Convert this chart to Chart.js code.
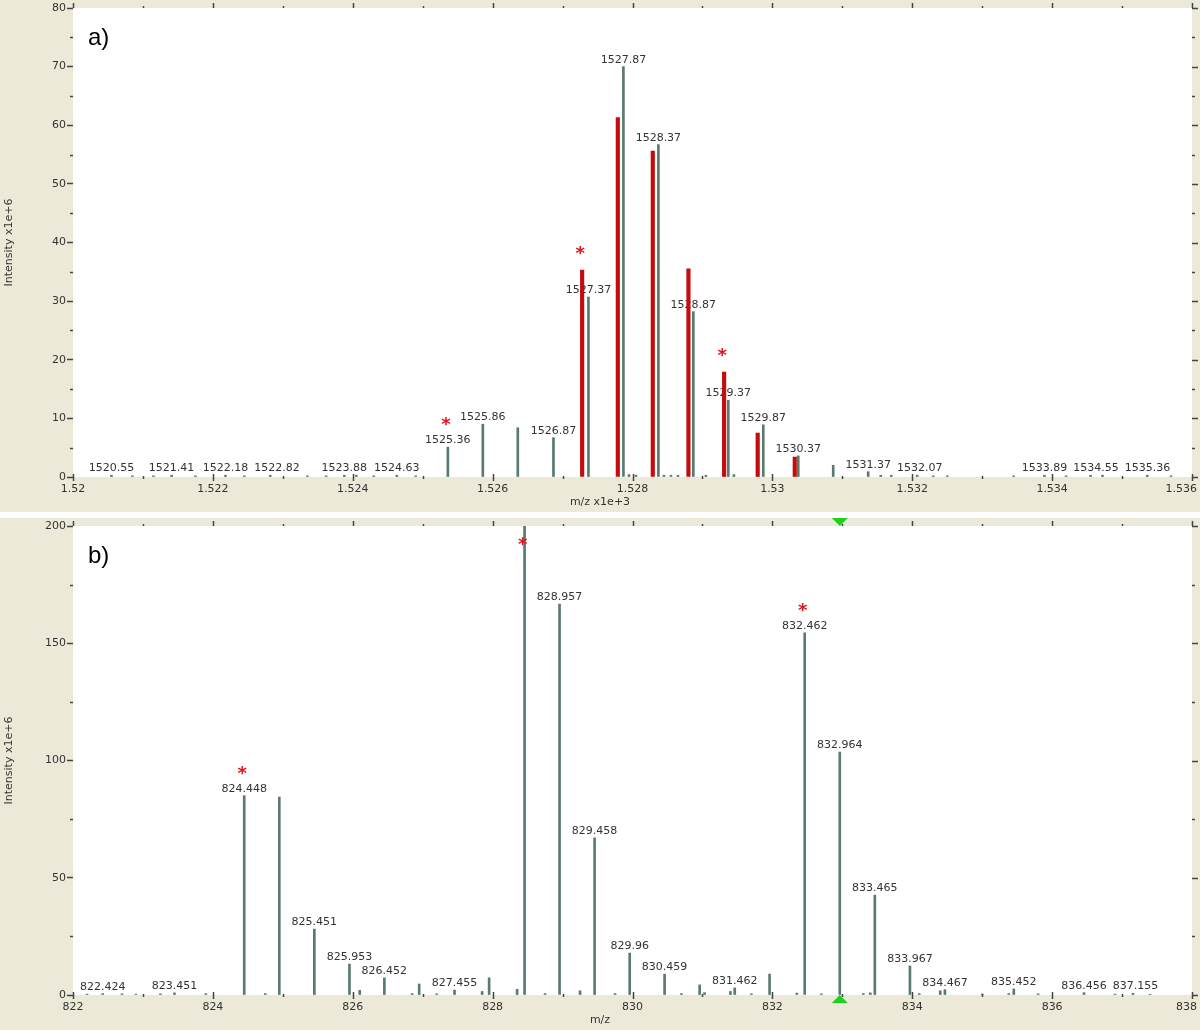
<!DOCTYPE html>
<html lang="en">
<head>
<meta charset="UTF-8">
<title>Mass spectra a) and b)</title>
<script src="https://cdn.jsdelivr.net/npm/chart.js"></script>
<style>
  * { margin: 0; padding: 0; box-sizing: border-box; }
  body { width: 1200px; height: 1030px; background: #fff; overflow: hidden; }
  .panel { position: absolute; left: 0; width: 1200px; height: 512px; background: #ECE9D8; }
  #panelA { top: 0; }
  #panelB { top: 518px; }
</style>
</head>
<body>
<div class="panel" id="panelA"><canvas id="chartA" width="1200" height="512"></canvas></div>
<div class="panel" id="panelB"><canvas id="chartB" width="1200" height="512"></canvas></div>

<script>
// ---- panel a) : measured peaks (grey) + theoretical isotopes (red) ----
const aMz = [1520.55, 1520.85, 1521.15, 1521.41, 1521.75, 1522.18, 1522.45, 1522.82, 1523.35, 1523.62,
             1523.88, 1524.05, 1524.3, 1524.63, 1524.9, 1525.36, 1525.86, 1526.36, 1526.87, 1527.37,
             1527.87, 1527.95, 1528.05, 1528.37, 1528.45, 1528.55, 1528.65, 1528.87, 1529.05, 1529.37,
             1529.45, 1529.87, 1530.37, 1530.87, 1531.37, 1531.55, 1531.7, 1532.07, 1532.3, 1532.5,
             1533.45, 1533.89, 1534.2, 1534.55, 1534.72, 1535.36, 1535.7];
const aInt = [0.3, 0.2, 0.2, 0.3, 0.2, 0.3, 0.2, 0.3, 0.2, 0.2,
              0.3, 0.3, 0.2, 0.3, 0.2, 5.1, 9.0, 8.4, 6.7, 30.7,
              70.0, 0.4, 0.3, 56.7, 0.3, 0.3, 0.3, 28.2, 0.3, 13.1,
              0.4, 8.9, 3.6, 2.0, 0.9, 0.3, 0.3, 0.3, 0.2, 0.2,
              0.2, 0.3, 0.2, 0.3, 0.3, 0.3, 0.2];
const aTheoMz = [1527.28, 1527.79, 1528.29, 1528.80, 1529.31, 1529.79, 1530.32];
const aTheoInt = [35.3, 61.3, 55.6, 35.5, 17.9, 7.5, 3.4];
const aLabelled = [1520.55, 1521.41, 1522.18, 1522.82, 1523.88, 1524.63, 1525.36, 1525.86, 1526.87,
                   1527.37, 1527.87, 1528.37, 1528.87, 1529.37, 1529.87, 1530.37, 1531.37, 1532.07,
                   1533.89, 1534.55, 1535.36];
const aStars = [1525.36, 1527.28, 1529.31];
const aXTicks = [1520, 1522, 1524, 1526, 1528, 1530, 1532, 1534, 1536];   // shown as x1e+3
const aYTicks = [0, 10, 20, 30, 40, 50, 60, 70, 80];

// ---- panel b) ----
const bMz = [822.2, 822.424, 822.7, 822.9, 823.25, 823.451, 823.9, 824.448, 824.75, 824.95,
             825.451, 825.953, 826.1, 826.452, 826.85, 826.95, 827.2, 827.455, 827.85, 827.95,
             828.35, 828.457, 828.75, 828.957, 829.25, 829.458, 829.75, 829.96, 830.459, 830.7,
             830.96, 831.03, 831.4, 831.462, 831.7, 831.96, 832.35, 832.462, 832.7, 832.964,
             833.3, 833.4, 833.465, 833.967, 834.1, 834.4, 834.467, 835.0, 835.38, 835.452,
             835.8, 836.456, 836.9, 837.155, 837.4];
const bInt = [0.4, 0.6, 0.5, 0.4, 0.5, 0.9, 0.6, 85.0, 0.6, 84.4,
              28.1, 13.2, 2.0, 7.3, 0.6, 4.7, 0.5, 2.1, 1.5, 7.3,
              2.4, 200, 0.6, 166.7, 1.8, 67.0, 0.6, 17.9, 8.9, 0.6,
              4.3, 1.0, 1.5, 3.0, 0.5, 8.9, 0.8, 154.4, 0.5, 103.6,
              0.6, 0.9, 42.6, 12.4, 0.6, 1.8, 2.3, 0.4, 0.6, 2.6,
              0.5, 1.0, 0.4, 0.7, 0.3];
const bLabelled = [822.424, 823.451, 824.448, 825.451, 825.953, 826.452, 827.455, 828.957, 829.458,
                   829.96, 830.459, 831.462, 832.462, 832.964, 833.465, 833.967, 834.467, 835.452,
                   836.456, 837.155];
const bStars = [824.448, 828.457, 832.462];
const bMarker = 832.964;
const bXTicks = [822, 824, 826, 828, 830, 832, 834, 836, 838];
const bYTicks = [0, 50, 100, 150, 200];

const GREY = '#587a70';
const RED = '#c40c0c';
const INK = '#333';

Chart.defaults.font.family = '"DejaVu Sans", Verdana, sans-serif';

function peakTop(cfg, m) {
  let i = cfg.mz.indexOf(m);
  if (i >= 0) return cfg.inten[i];
  i = cfg.theoMz.indexOf(m);
  return i >= 0 ? cfg.theoInt[i] : 0;
}

function decoPlugin(cfg) {
  return {
    id: 'deco' + cfg.tag.charAt(0),
    beforeDraw(chart) {
      const { ctx, chartArea: a } = chart;
      ctx.save();
      ctx.fillStyle = '#fff';
      ctx.fillRect(a.left, a.top, a.right - a.left, a.bottom - a.top);
      ctx.restore();
    },
    beforeDatasetsDraw(chart) {
      // peak labels, nudged right when they would collide with the previous one
      const { ctx, scales: { x, y } } = chart;
      ctx.save();
      ctx.font = '11px "DejaVu Sans"';
      ctx.fillStyle = INK;
      ctx.textAlign = 'center';
      const placed = [];
      cfg.labelled.forEach(m => {
        const t = String(m);
        const w = ctx.measureText(t).width;
        let px = x.getPixelForValue(m);
        const py = y.getPixelForValue(peakTop(cfg, m)) - 4;
        placed.forEach(p => {
          if (Math.abs(p.y - py) < 12 && px - w / 2 < p.right + 6) px = p.right + 6 + w / 2;
        });
        ctx.fillText(t, px, py);
        placed.push({ right: px + w / 2, y: py });
      });
      ctx.restore();
    },
    afterDraw(chart) {
      const { ctx, chartArea: a, scales: { x, y } } = chart;
      ctx.save();
      ctx.strokeStyle = '#444';
      ctx.lineWidth = 1.5;
      const line = (x0, y0, x1, y1) => { ctx.beginPath(); ctx.moveTo(x0, y0); ctx.lineTo(x1, y1); ctx.stroke(); };

      // x ticks: bottom axis + mirrored on top
      const xs = cfg.xTicks;
      for (let v = xs[0]; v <= xs[xs.length - 1]; v += 1) {
        const px = Math.round(x.getPixelForValue(v)) + 0.5;
        const major = xs.includes(v);
        line(px, a.bottom - (major ? 3 : 1), px, a.bottom + (major ? 4 : 2));
        line(px, a.top - (major ? 5 : 2), px, a.top);
      }
      // y ticks: minor on the left, all on the right
      const ys = cfg.yTicks, half = (ys[1] - ys[0]) / 2;
      for (let v = 0; v <= ys[ys.length - 1]; v += half) {
        const py = Math.round(y.getPixelForValue(v)) + 0.5;
        const major = ys.includes(v);
        if (!major) line(a.left - 3, py, a.left, py);
        line(a.right, py, a.right + (major ? 6 : 3), py);
      }

      // x tick labels, kept inside the canvas
      ctx.font = '11px "DejaVu Sans"';
      ctx.fillStyle = INK;
      ctx.textAlign = 'center';
      ctx.textBaseline = 'middle';
      xs.forEach(v => {
        const t = cfg.xFmt(v);
        const w = ctx.measureText(t).width;
        let px = x.getPixelForValue(v);
        px = Math.min(px, chart.width - 3 - w / 2);
        ctx.fillText(t, px, a.bottom + 12);
      });
      ctx.fillText(cfg.xTitle, chart.width / 2, a.bottom + 25);

      // panel tag
      ctx.font = '24px "Liberation Sans", Arial, sans-serif';
      ctx.fillStyle = '#000';
      ctx.textAlign = 'left';
      ctx.textBaseline = 'alphabetic';
      ctx.fillText(cfg.tag, a.left + 15, a.top + 37);

      // asterisks on marked isotopes
      ctx.font = 'bold 18px "DejaVu Sans"';
      ctx.fillStyle = '#e0161c';
      ctx.textAlign = 'center';
      cfg.stars.forEach(m => {
        const top = y.getPixelForValue(peakTop(cfg, m));
        let cy = top - (cfg.labelled.includes(m) ? 26 : 20);
        if (cy < a.top + 15) cy = a.top + 15;
        ctx.fillText('*', x.getPixelForValue(m) - 2, cy + 9);
      });

      // green range marker
      if (cfg.marker) {
        const mx = x.getPixelForValue(cfg.marker);
        ctx.fillStyle = '#1fd01f';
        ctx.beginPath();
        ctx.moveTo(mx - 8, a.top - 8); ctx.lineTo(mx + 8, a.top - 8); ctx.lineTo(mx, a.top); ctx.closePath();
        ctx.fill();
        ctx.beginPath();
        ctx.moveTo(mx - 8, a.bottom + 8); ctx.lineTo(mx + 8, a.bottom + 8); ctx.lineTo(mx, a.bottom); ctx.closePath();
        ctx.fill();
      }
      ctx.restore();
    }
  };
}

function makeSpectrum(canvasId, cfg) {
  const datasets = [{
    data: cfg.mz.map((m, i) => ({ x: m, y: cfg.inten[i] })),
    backgroundColor: GREY,
    barThickness: 2,
    grouped: false
  }];
  if (cfg.theoMz.length) {
    datasets.push({
      data: cfg.theoMz.map((m, i) => ({ x: m, y: cfg.theoInt[i] })),
      backgroundColor: RED,
      barThickness: 3.5,
      grouped: false
    });
  }
  return new Chart(document.getElementById(canvasId), {
    type: 'bar',
    data: { datasets },
    options: {
      responsive: false,
      animation: false,
      events: [],
      layout: { padding: { top: 8, right: 8, bottom: 0, left: 0 } },
      plugins: { legend: { display: false }, tooltip: { enabled: false } },
      scales: {
        x: {
          type: 'linear',
          min: cfg.xTicks[0],
          max: cfg.xTicks[cfg.xTicks.length - 1],
          offset: false,
          grid: { display: false },
          border: { display: false },
          ticks: { display: false },
          afterFit(s) { s.height = 35; s.paddingLeft = 0; s.paddingRight = 0; }
        },
        y: {
          min: 0,
          max: cfg.yTicks[cfg.yTicks.length - 1],
          ticks: { stepSize: cfg.yTicks[1] - cfg.yTicks[0], color: INK, font: { size: 11 }, padding: 1 },
          grid: { drawOnChartArea: false, tickLength: 6, tickWidth: 1.5, tickColor: '#444' },
          border: { display: false },
          title: { display: true, text: 'Intensity x1e+6', color: INK, font: { size: 11 }, padding: { top: 3, bottom: 0 } },
          afterFit(s) { s.width = 73; s.paddingTop = 0; s.paddingBottom = 0; }
        }
      }
    },
    plugins: [decoPlugin(cfg)]
  });
}

makeSpectrum('chartA', {
  tag: 'a)', mz: aMz, inten: aInt, theoMz: aTheoMz, theoInt: aTheoInt,
  labelled: aLabelled, stars: aStars, xTicks: aXTicks, yTicks: aYTicks,
  xFmt: v => String(v / 1000), xTitle: 'm/z x1e+3', marker: null
});
makeSpectrum('chartB', {
  tag: 'b)', mz: bMz, inten: bInt, theoMz: [], theoInt: [],
  labelled: bLabelled, stars: bStars, xTicks: bXTicks, yTicks: bYTicks,
  xFmt: v => String(v), xTitle: 'm/z', marker: bMarker
});
</script>
</body>
</html>
